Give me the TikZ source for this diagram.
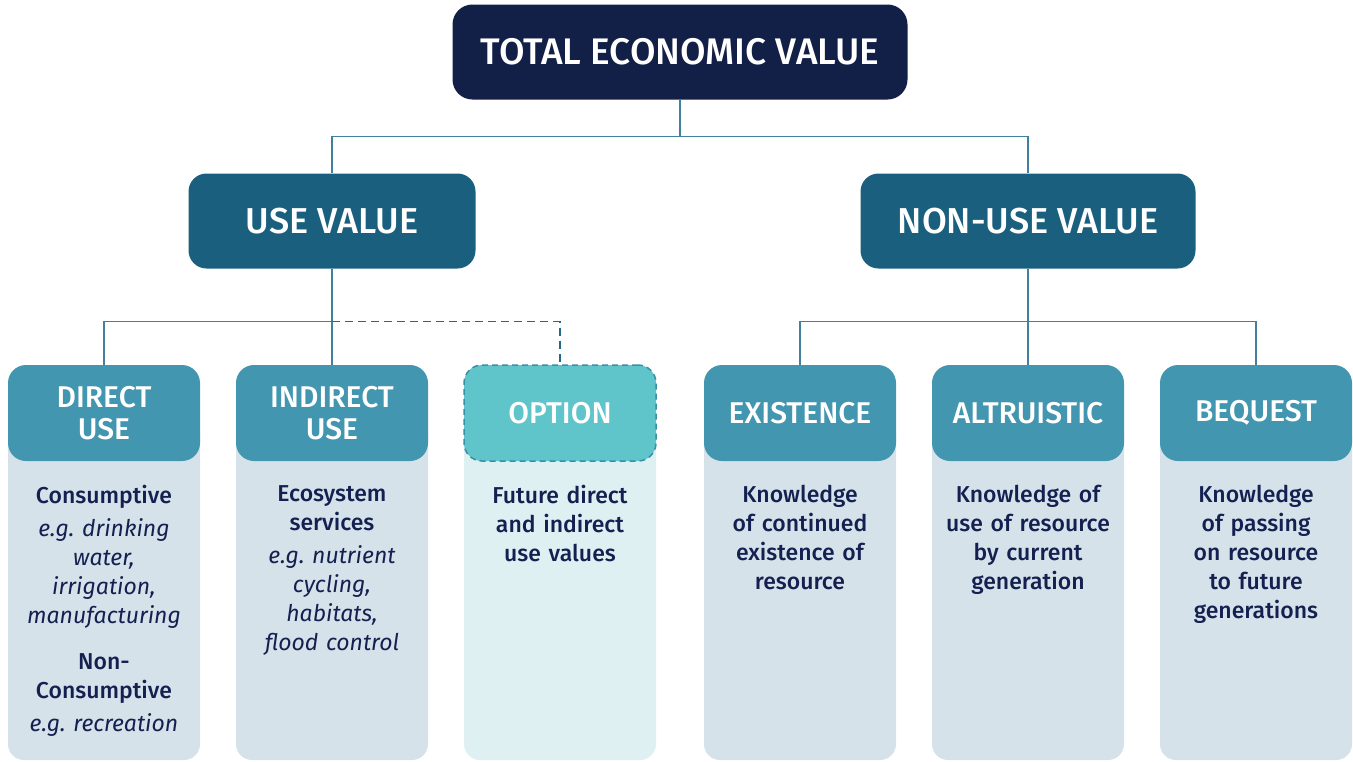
\documentclass[tikz,border=0pt]{standalone}
\usepackage{fontspec}
\setmainfont{Fira Sans}[UprightFont={* Medium},ItalicFont={* Italic}]
\frenchspacing
\usetikzlibrary{positioning}

\definecolor{tevnavy}{HTML}{121F46}
\definecolor{midteal}{HTML}{1A5F7E}
\definecolor{catteal}{HTML}{4396AF}
\definecolor{optteal}{HTML}{5FC5CB}
\definecolor{optedge}{HTML}{3A8FA8}
\definecolor{panelgrey}{HTML}{D6E2EA}
\definecolor{optpale}{HTML}{DFF0F3}
\definecolor{textnavy}{HTML}{142050}
\definecolor{linkteal}{HTML}{41819E}
\definecolor{dashteal}{HTML}{23698C}

\tikzset{
  topbox/.style={fill=tevnavy, rounded corners=20pt, minimum width=455pt,
    minimum height=95pt, text=white, font=\fontsize{37}{40}\selectfont},
  midbox/.style={fill=midteal, rounded corners=18pt, minimum height=95pt,
    text=white, font=\fontsize{36}{40}\selectfont},
  catbox/.style={fill=catteal, rounded corners=18pt, minimum width=192pt,
    minimum height=96pt, text=white, align=center,
    font=\fontsize{30}{32}\selectfont},
  optbox/.style={catbox, fill=optteal, draw=optedge,
    dash pattern=on 6pt off 4pt, line width=1.5pt},
  panel/.style={fill=panelgrey, rounded corners=16pt, minimum width=192pt,
    minimum height=340pt},
  optpanel/.style={panel, fill=optpale},
  bodytext/.style={text=textnavy, align=center, text width=190pt,
    inner sep=0pt, anchor=north, font=\fontsize{23}{29}\selectfont},
  link/.style={draw=linkteal, line width=1.5pt},
  optlink/.style={draw=dashteal, line width=1.5pt, dash pattern=on 8pt off 5pt},
}

\begin{document}
\begin{tikzpicture}[x=1pt,y=-1pt]
  \useasboundingbox (0,0) rectangle (1353,761);

  % top levels
  \node[topbox] (tev) at (680,52) {TOTAL ECONOMIC VALUE};
  \node[midbox, minimum width=287pt] (use) at (332,221) {USE VALUE};
  \node[midbox, minimum width=335pt] (nonuse) at (1028,221) {NON-USE VALUE};

  % panels under the categories
  \node[panel] (direct-panel) at (104,590) {};
  \node[panel] (indirect-panel) at (332,590) {};
  \node[optpanel] (option-panel) at (560,590) {};
  \node[panel] (existence-panel) at (800,590) {};
  \node[panel] (altruistic-panel) at (1028,590) {};
  \node[panel] (bequest-panel) at (1256,590) {};

  % categories
  \node[catbox] (direct) at (104,413) {DIRECT\\USE};
  \node[catbox] (indirect) at (332,413) {INDIRECT\\USE};
  \node[optbox] (option) at (560,413) {OPTION};
  \node[catbox] (existence) at (800,413) {EXISTENCE};
  \node[catbox] (altruistic) at (1028,413) {ALTRUISTIC};
  \node[catbox] (bequest) at (1256,413) {BEQUEST};

  % texts
  \node[bodytext] (direct-text) at (104,485) {Consumptive\\[4pt]
    \textit{e.g. drinking}\\ \textit{water,}\\ \textit{irrigation,}\\
    \textit{manufacturing}\\[17pt] Non-\\ Consumptive\\[4pt]
    \textit{e.g. recreation}};
  \node[bodytext] (indirect-text) at (332,485) {Ecosystem\\ services\\[4pt]
    \textit{e.g. nutrient}\\ \textit{cycling,}\\ \textit{habitats,}\\
    \textit{flood control}};
  \node[bodytext] (option-text) at (560,485) {Future direct\\ and indirect\\
    use values};
  \node[bodytext] (existence-text) at (800,485) {Knowledge\\ of continued\\
    existence of\\ resource};
  \node[bodytext] (altruistic-text) at (1028,485) {Knowledge of\\
    use of resource\\ by current\\ generation};
  \node[bodytext] (bequest-text) at (1256,485) {Knowledge\\ of passing\\
    on resource\\ to future\\ generations};

  % connectors
  \draw[link] (tev.south) -- ++(0,37) coordinate (tev-join);
  \draw[link] (use.north) |- (tev-join) -| (nonuse.north);
  \draw[link] (use.south) -- ++(0,53) coordinate (use-join);
  \draw[link] (direct.north) |- (use-join) -- (indirect.north);
  \draw[optlink] (use-join) -| (option.north);
  \draw[link] (nonuse.south) -- ++(0,53) coordinate (nonuse-join);
  \draw[link] (existence.north) |- (nonuse-join) -| (bequest.north);
  \draw[link] (nonuse-join) -- (altruistic.north);
\end{tikzpicture}
\end{document}
